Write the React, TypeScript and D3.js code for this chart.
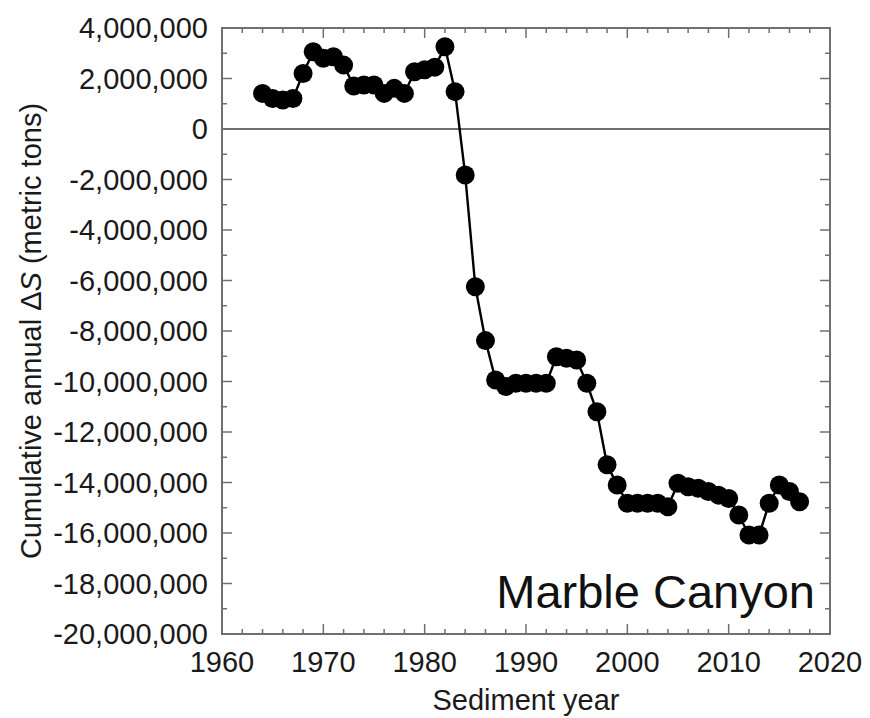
import React from "react";
import * as d3 from "d3";

// Sediment years and cumulative annual change in sediment storage (metric tons)
const years: number[] = [
  1964, 1965, 1966, 1967, 1968, 1969, 1970, 1971, 1972, 1973, 1974, 1975, 1976, 1977,
  1978, 1979, 1980, 1981, 1982, 1983, 1984, 1985, 1986, 1987, 1988, 1989, 1990, 1991,
  1992, 1993, 1994, 1995, 1996, 1997, 1998, 1999, 2000, 2001, 2002, 2003, 2004, 2005,
  2006, 2007, 2008, 2009, 2010, 2011, 2012, 2013, 2014, 2015, 2016, 2017,
];
const cumulativeDS: number[] = [
  1410000, 1210000, 1150000, 1210000, 2200000, 3060000, 2800000, 2860000, 2530000, 1700000,
  1740000, 1740000, 1410000, 1610000, 1410000, 2270000, 2350000, 2450000, 3260000, 1480000,
  -1820000, -6250000, -8380000, -9940000, -10200000, -10070000, -10070000, -10070000, -10070000, -9020000,
  -9080000, -9150000, -10070000, -11200000, -13300000, -14100000, -14820000, -14820000, -14820000, -14820000,
  -14960000, -14030000, -14170000, -14230000, -14360000, -14500000, -14630000, -15290000, -16080000, -16080000,
  -14820000, -14100000, -14360000, -14760000,
];
const xTickValues: number[] = [1960, 1970, 1980, 1990, 2000, 2010, 2020];
const yTickValues: number[] = [
  4000000, 2000000, 0, -2000000, -4000000, -6000000, -8000000, -10000000, -12000000,
  -14000000, -16000000, -18000000, -20000000,
];
const siteName = "Marble Canyon";

const W = 870;
const H = 718;
const left = 222;
const right = 830;
const top = 28;
const bottom = 634;
const FONT = "'Liberation Sans', Arial, Helvetica, sans-serif";
const AXIS = "#707070";
const TEXT = "#1a1a1a";
const FS = 29;

// thousands separators with a plain hyphen for negatives
const fmtTick = (v: number) => d3.format(",")(v).replace("\u2212", "-");

export default function App() {
  const x = d3.scaleLinear().domain([1960, 2020]).range([left, right]);
  const y = d3.scaleLinear().domain([-20000000, 4000000]).range([bottom, top]);

  const pts = years.map((yr, i) => [x(yr), y(cumulativeDS[i])] as [number, number]);
  const line = d3.line()(pts) || "";

  const xMinor = d3.range(1960, 2021, 2);
  const yMinor = d3.range(-20000000, 4000001, 1000000);

  return (
    <svg
      width={W}
      height={H}
      style={{ position: "absolute", left: 0, top: 0, background: "#fff" }}
      fontFamily={FONT}
    >
      {/* zero line */}
      <line x1={left} x2={right} y1={y(0)} y2={y(0)} stroke={AXIS} strokeWidth={2} />

      {/* ticks on all four sides, pointing inward */}
      {xMinor.map((v) => {
        const len = v % 10 === 0 ? 10 : 5;
        return (
          <g key={"xt" + v} stroke={AXIS} strokeWidth={1.5}>
            <line x1={x(v)} x2={x(v)} y1={bottom} y2={bottom - len} />
            <line x1={x(v)} x2={x(v)} y1={top} y2={top + len} />
          </g>
        );
      })}
      {yMinor.map((v) => {
        const len = v % 2000000 === 0 ? 10 : 5;
        return (
          <g key={"yt" + v} stroke={AXIS} strokeWidth={1.5}>
            <line x1={left} x2={left + len} y1={y(v)} y2={y(v)} />
            <line x1={right} x2={right - len} y1={y(v)} y2={y(v)} />
          </g>
        );
      })}

      {/* frame */}
      <rect
        x={left}
        y={top}
        width={right - left}
        height={bottom - top}
        fill="none"
        stroke={AXIS}
        strokeWidth={2}
      />

      {/* tick labels */}
      {xTickValues.map((v) => (
        <text key={"xl" + v} x={x(v)} y={672} textAnchor="middle" fontSize={FS} fill={TEXT}>
          {v}
        </text>
      ))}
      {yTickValues.map((v) => (
        <text
          key={"yl" + v}
          x={208}
          y={y(v)}
          dy="0.36em"
          textAnchor="end"
          fontSize={FS}
          fill={TEXT}
        >
          {fmtTick(v)}
        </text>
      ))}

      {/* axis titles */}
      <text x={(left + right) / 2} y={710} textAnchor="middle" fontSize={FS} fill={TEXT}>
        Sediment year
      </text>
      <text
        transform={`translate(41,${(top + bottom) / 2}) rotate(-90)`}
        textAnchor="middle"
        fontSize={FS}
        fill={TEXT}
      >
        Cumulative annual Δ<tspan fontStyle="italic">S</tspan> (metric tons)
      </text>

      {/* series */}
      <path d={line} fill="none" stroke="#000" strokeWidth={2.4} />
      {pts.map((p, i) => (
        <circle key={"c" + i} cx={p[0]} cy={p[1]} r={9.5} fill="#000" />
      ))}

      {/* site label */}
      <text x={815} y={608} textAnchor="end" fontSize={47} fill="#111">
        {siteName}
      </text>
    </svg>
  );
}
